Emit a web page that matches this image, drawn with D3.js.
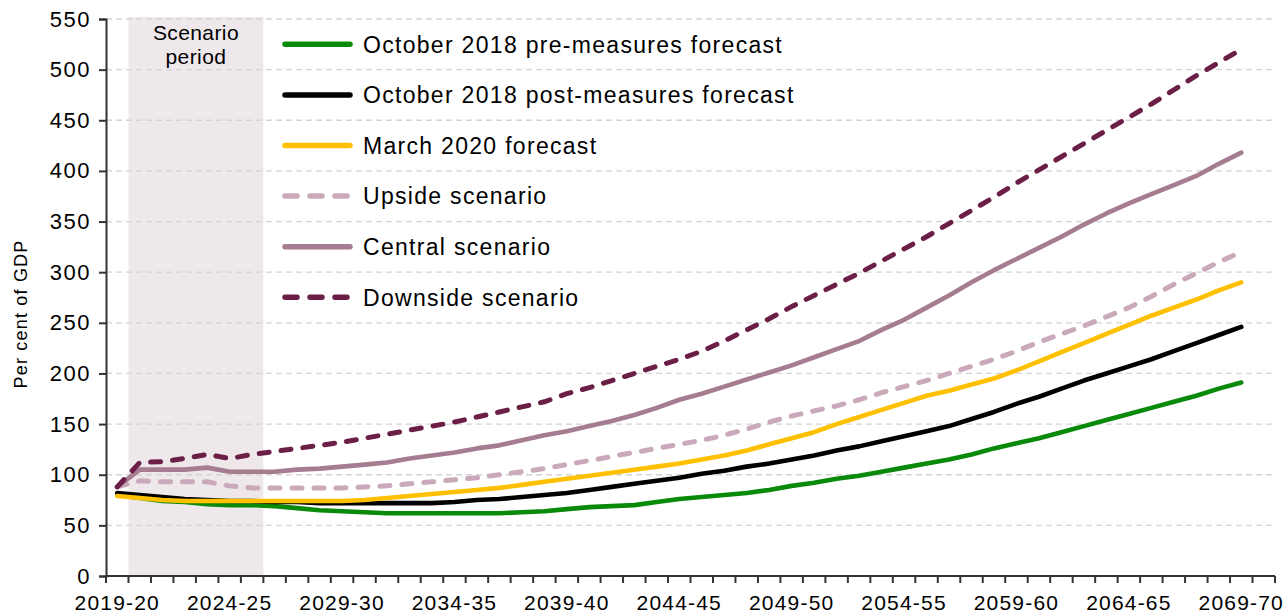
<!DOCTYPE html>
<html>
<head>
<meta charset="utf-8">
<script src="https://cdn.jsdelivr.net/npm/d3@7"></script>
<style>
  body { margin: 0; background: #fff; }
  svg { display: block; font-family: "Liberation Sans", Arial, sans-serif; }
</style>
</head>
<body>
<div id="chart"></div>
<script>
// financial years 2019-20 .. 2070-71 (last one has no data)
const years = d3.range(2019, 2071).map(y => y + "-" + String((y + 1) % 100).padStart(2, "0"));
const tickYears = years.filter((d, i) => i % 5 === 0 && i <= 50);
const yTicks = d3.range(0, 551, 50);
const scenarioPeriod = ["2020-21", "2026-27"];

const preMeasures = [80, 77, 74, 73, 71, 70, 70, 69, 67, 65, 64, 63, 62, 62, 62, 62, 62, 62, 63, 64,
  66, 68, 69, 70, 73, 76, 78, 80, 82, 85, 89, 92, 96, 99, 103, 107, 111, 115, 120, 126,
  131, 136, 142, 148, 154, 160, 166, 172, 178, 185, 191];
const postMeasures = [82, 80, 78, 76, 75, 74, 74, 73, 73, 72, 72, 72, 72, 72, 72, 73, 75, 76, 78, 80,
  82, 85, 88, 91, 94, 97, 101, 104, 108, 111, 115, 119, 124, 128, 133, 138, 143, 148, 155, 162,
  170, 177, 185, 193, 200, 207, 214, 222, 230, 238, 246];
const march2020 = [79, 77, 75, 74, 74, 74, 74, 74, 74, 74, 74, 75, 77, 79, 81, 83, 85, 87, 90, 93,
  96, 99, 102, 105, 108, 111, 115, 119, 124, 130, 136, 142, 150, 157, 164, 171, 178, 183, 189, 195,
  203, 212, 221, 230, 239, 248, 257, 265, 273, 282, 290];
const upside = [88, 94, 93, 93, 93, 89, 87, 87, 87, 87, 87, 88, 89, 91, 93, 95, 97, 100, 103, 106,
  110, 114, 118, 122, 126, 130, 134, 139, 145, 152, 158, 163, 168, 174, 181, 187, 193, 200, 207, 214,
  222, 231, 239, 247, 256, 265, 276, 288, 299, 310, 320];
const central = [88, 105, 105, 105, 107, 103, 103, 103, 105, 106, 108, 110, 112, 116, 119, 122, 126, 129, 134, 139,
  143, 148, 153, 159, 166, 174, 180, 187, 194, 201, 208, 216, 224, 232, 243, 253, 265, 277, 290, 302,
  313, 324, 335, 347, 358, 368, 377, 386, 395, 407, 418];
const downside = [88, 112, 113, 116, 120, 116, 120, 123, 126, 129, 132, 136, 140, 144, 148, 152, 157, 162, 167, 172,
  180, 186, 193, 200, 207, 214, 222, 232, 243, 254, 266, 277, 288, 299, 311, 323, 335, 348, 361, 374,
  388, 401, 414, 427, 440, 453, 466, 480, 494, 507, 520];

const seriesNames = ["October 2018 pre-measures forecast", "October 2018 post-measures forecast",
  "March 2020 forecast", "Upside scenario", "Central scenario", "Downside scenario"];
const seriesValues = [preMeasures, postMeasures, march2020, upside, central, downside];

const colors = ["#0a8a0a", "#000000", "#ffc000", "#c9a9ba", "#a57c90", "#6b1f47"];
const dashed = [false, false, false, true, false, true];

const width = 1284, height = 613;
const margin = { top: 19, right: 9, bottom: 37, left: 106 };

const svg = d3.select("#chart")
  .append("svg")
  .attr("width", width)
  .attr("height", height);

const x = d3.scaleBand()
  .domain(years)
  .range([margin.left, width - margin.right])
  .padding(0);

const y = d3.scaleLinear()
  .domain([0, 550])
  .range([height - margin.bottom, margin.top]);

const cx = d => x(d) + x.bandwidth() / 2;

// scenario shading
svg.append("rect")
  .attr("x", x(scenarioPeriod[0]))
  .attr("y", y(550) - 2)
  .attr("width", x(scenarioPeriod[1]) - x(scenarioPeriod[0]))
  .attr("height", y(0) - y(550) + 2)
  .attr("fill", "#eee8eb");

svg.append("text")
  .attr("x", (x(scenarioPeriod[0]) + x(scenarioPeriod[1])) / 2)
  .attr("y", 39.5)
  .attr("text-anchor", "middle")
  .attr("font-size", 21)
  .attr("letter-spacing", 0.4)
  .selectAll("tspan")
  .data(["Scenario", "period"])
  .join("tspan")
  .attr("x", (x(scenarioPeriod[0]) + x(scenarioPeriod[1])) / 2)
  .attr("dy", (d, i) => i === 0 ? 0 : 24)
  .text(d => d);

// gridlines
svg.append("g")
  .selectAll("line")
  .data(yTicks.filter(d => d > 0))
  .join("line")
  .attr("x1", margin.left)
  .attr("x2", width - margin.right)
  .attr("y1", d => y(d))
  .attr("y2", d => y(d))
  .attr("stroke", "#d4d4d4")
  .attr("stroke-width", 1.3)
  .attr("stroke-dasharray", "6,4");

// legend
const legend = svg.append("g")
  .selectAll("g")
  .data(seriesNames)
  .join("g")
  .attr("transform", (d, i) => `translate(0,${44.3 + i * 50.6})`);

legend.append("line")
  .attr("x1", 285)
  .attr("x2", 350)
  .attr("stroke", (d, i) => colors[i])
  .attr("stroke-width", 5.5)
  .attr("stroke-linecap", "round")
  .attr("stroke-dasharray", (d, i) => dashed[i] ? "12,13" : null);

legend.append("text")
  .attr("x", 363)
  .attr("dy", "0.36em")
  .attr("font-size", 23)
  .attr("letter-spacing", 1.3)
  .attr("fill", "#000")
  .text(d => d);

// series lines
const line = d3.line()
  .x((d, i) => cx(years[i]))
  .y(d => y(d));

svg.append("g")
  .selectAll("path")
  .data(seriesValues)
  .join("path")
  .attr("d", line)
  .attr("fill", "none")
  .attr("stroke", (d, i) => colors[i])
  .attr("stroke-width", (d, i) => dashed[i] ? 5 : 4.6)
  .attr("stroke-linejoin", "round")
  .attr("stroke-linecap", "round")
  .attr("stroke-dasharray", (d, i) => dashed[i] ? "10,12" : null);

// y axis
const yAxis = svg.append("g")
  .attr("transform", `translate(${margin.left},0)`)
  .call(d3.axisLeft(y).tickValues(yTicks).tickSize(7).tickPadding(8));
yAxis.select(".domain").attr("stroke", "#333").attr("stroke-width", 2);
yAxis.selectAll(".tick line").attr("stroke", "#333").attr("stroke-width", 2);
yAxis.selectAll(".tick text")
  .attr("font-size", 22)
  .attr("letter-spacing", 1.5)
  .attr("fill", "#000")
  .attr("font-family", "Liberation Sans, Arial, sans-serif");

// x axis: ticks on category boundaries, labels every five years
const xAxis = svg.append("g")
  .attr("transform", `translate(0,${y(0)})`);
xAxis.append("line")
  .attr("x1", margin.left)
  .attr("x2", width - margin.right)
  .attr("stroke", "#333")
  .attr("stroke-width", 2);
xAxis.selectAll(".xtick")
  .data(years.concat([null]))
  .join("line")
  .attr("class", "xtick")
  .attr("x1", (d, i) => margin.left + i * x.bandwidth())
  .attr("x2", (d, i) => margin.left + i * x.bandwidth())
  .attr("y1", 0)
  .attr("y2", 7)
  .attr("stroke", "#333")
  .attr("stroke-width", 2);
xAxis.selectAll(".xlabel")
  .data(tickYears)
  .join("text")
  .attr("class", "xlabel")
  .attr("x", d => cx(d))
  .attr("y", 34)
  .attr("text-anchor", "middle")
  .attr("font-size", 21)
  .attr("letter-spacing", 1.2)
  .attr("fill", "#000")
  .text(d => d);

// y axis title
svg.append("text")
  .attr("transform", "translate(27,314) rotate(-90)")
  .attr("text-anchor", "middle")
  .attr("font-size", 18)
  .attr("letter-spacing", 1.2)
  .attr("fill", "#000")
  .text("Per cent of GDP");
</script>
</body>
</html>
